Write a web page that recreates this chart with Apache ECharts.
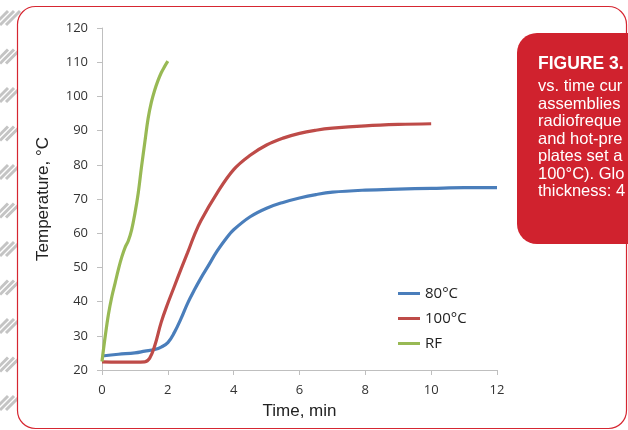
<!DOCTYPE html>
<html>
<head>
<meta charset="utf-8">
<script src="https://cdn.jsdelivr.net/npm/echarts@6/dist/echarts.min.js"></script>
<style>html,body{margin:0;padding:0;background:#fff;}#c{width:628px;height:430px;}</style>
</head>
<body>
<div id="c"></div>
<script>
// ---- data ----
const timeBlue = [0,0.5,1,1.3,1.6,1.8,2,2.2,2.4,2.6,2.8,3,3.2,3.5,3.8,4,4.5,5,5.5,6,6.5,7,8,9,10,11,12];
const tempBlue = [24.1,24.6,25,25.5,26,26.7,28,31,35,39.5,43.3,46.8,50,54.8,58.8,61,64.8,67.3,69,70.3,71.3,72,72.6,72.9,73.1,73.3,73.3];
const timeRed = [0,0.5,1,1.3,1.45,1.6,1.8,2,2.2,2.4,2.6,2.8,3,3.5,4,4.5,5,5.5,6,6.5,7,8,9,10];
const tempRed = [22.4,22.3,22.3,22.4,23.5,27,34,39.5,44.5,49.5,54.3,59.3,63.6,71.8,78.6,82.8,85.8,87.8,89.2,90.1,90.7,91.4,91.8,92];
const timeGreen = [0,0.1,0.2,0.3,0.4,0.5,0.6,0.7,0.8,0.9,1.0,1.1,1.2,1.3,1.4,1.5,1.6,1.7,1.8,1.9,2.0];
const tempGreen = [22.5,30,36.5,41.5,45.5,49.5,53,55.8,57.8,61,65.8,71.7,79.4,86.5,93.5,98.3,101.8,104.6,106.9,108.7,110.3];
const seriesNames = ['80°C','100°C','RF'];
const captionTitle = 'FIGURE 3.';
const captionLines = ['vs. time cur','assemblies','radiofreque','and hot-pre','plates set a','100°C). Glo','thickness: 4'];

const pair = (xs, ys) => xs.map((x, i) => [x, ys[i]]);

// decorative hatch on left edge
const graphics = [];
for (let g = 0; g < 12; g++) {
  const y0 = 9 + g * 38.5;
  for (let k = 0; k < 3; k++) {
    const x0 = -6 + k * 6;
    graphics.push({type:'line', z:-2, shape:{x1:x0, y1:y0+16, x2:x0+14, y2:y0+2},
      style:{stroke:'#c4c4c4', lineWidth:3}});
  }
}
graphics.push({type:'rect', z:-1, shape:{x:17.5, y:6.5, width:609, height:422, r:18},
  style:{fill:'#fff', stroke:'#d62631', lineWidth:1.2}});
graphics.push({type:'rect', z:-1, shape:{x:517, y:33, width:140, height:211, r:20},
  style:{fill:'#d0222e'}});
graphics.push({type:'text', z:5, left:538, top:55, style:{text:captionTitle, fill:'#fff',
  font:'bold 17.5px "Liberation Sans", Arial, sans-serif'}});
captionLines.forEach((t, i) => {
  graphics.push({type:'text', z:5, left:538, top:78 + i*17.5, style:{text:t, fill:'#fff',
    font:'16.5px "Liberation Sans", Arial, sans-serif'}});
});

const chart = echarts.init(document.getElementById('c'), null, {renderer:'canvas'});
const colors = ['#4a7ebb','#be4b48','#98b954'];
chart.setOption({
  animation:false,
  color: colors,
  graphic: graphics,
  grid:{left:102, top:28, right:131, bottom:60, containLabel:false},
  legend:{
    orient:'vertical', left:398, top:286, itemWidth:22, itemHeight:3, itemGap:10, padding:0,
    icon:'rect',
    data: seriesNames,
    textStyle:{fontSize:15, color:'#222', fontFamily:'"Open Sans", sans-serif'}
  },
  xAxis:{
    type:'value', min:0, max:12, interval:2,
    name:'Time, min', nameLocation:'middle', nameGap:33,
    nameTextStyle:{fontSize:17, color:'#222', fontFamily:'"Liberation Sans", Arial, sans-serif'},
    axisLine:{lineStyle:{color:'#bfbfbf', width:1}},
    axisTick:{show:true, length:5, lineStyle:{color:'#bfbfbf'}},
    axisLabel:{fontSize:13, color:'#333', margin:14, fontFamily:'"Open Sans", sans-serif'},
    splitLine:{show:false}
  },
  yAxis:{
    type:'value', min:20, max:120, interval:10,
    name:'Temperature, °C', nameLocation:'middle', nameGap:50, nameRotate:90,
    nameTextStyle:{fontSize:17, color:'#222', fontFamily:'"Liberation Sans", Arial, sans-serif'},
    axisLine:{show:true, lineStyle:{color:'#bfbfbf', width:1}},
    axisTick:{show:true, length:5, lineStyle:{color:'#bfbfbf'}},
    axisLabel:{fontSize:13, color:'#333', margin:14, fontFamily:'"Open Sans", sans-serif'},
    splitLine:{show:false}
  },
  series:[
    {name:seriesNames[0], type:'line', data:pair(timeBlue,tempBlue), showSymbol:false, smooth:0.4, lineStyle:{width:3.2}},
    {name:seriesNames[1], type:'line', data:pair(timeRed,tempRed), showSymbol:false, smooth:0.4, lineStyle:{width:3.2}},
    {name:seriesNames[2], type:'line', data:pair(timeGreen,tempGreen), showSymbol:false, smooth:0.4, lineStyle:{width:3.2}}
  ]
});
</script>
</body>
</html>
